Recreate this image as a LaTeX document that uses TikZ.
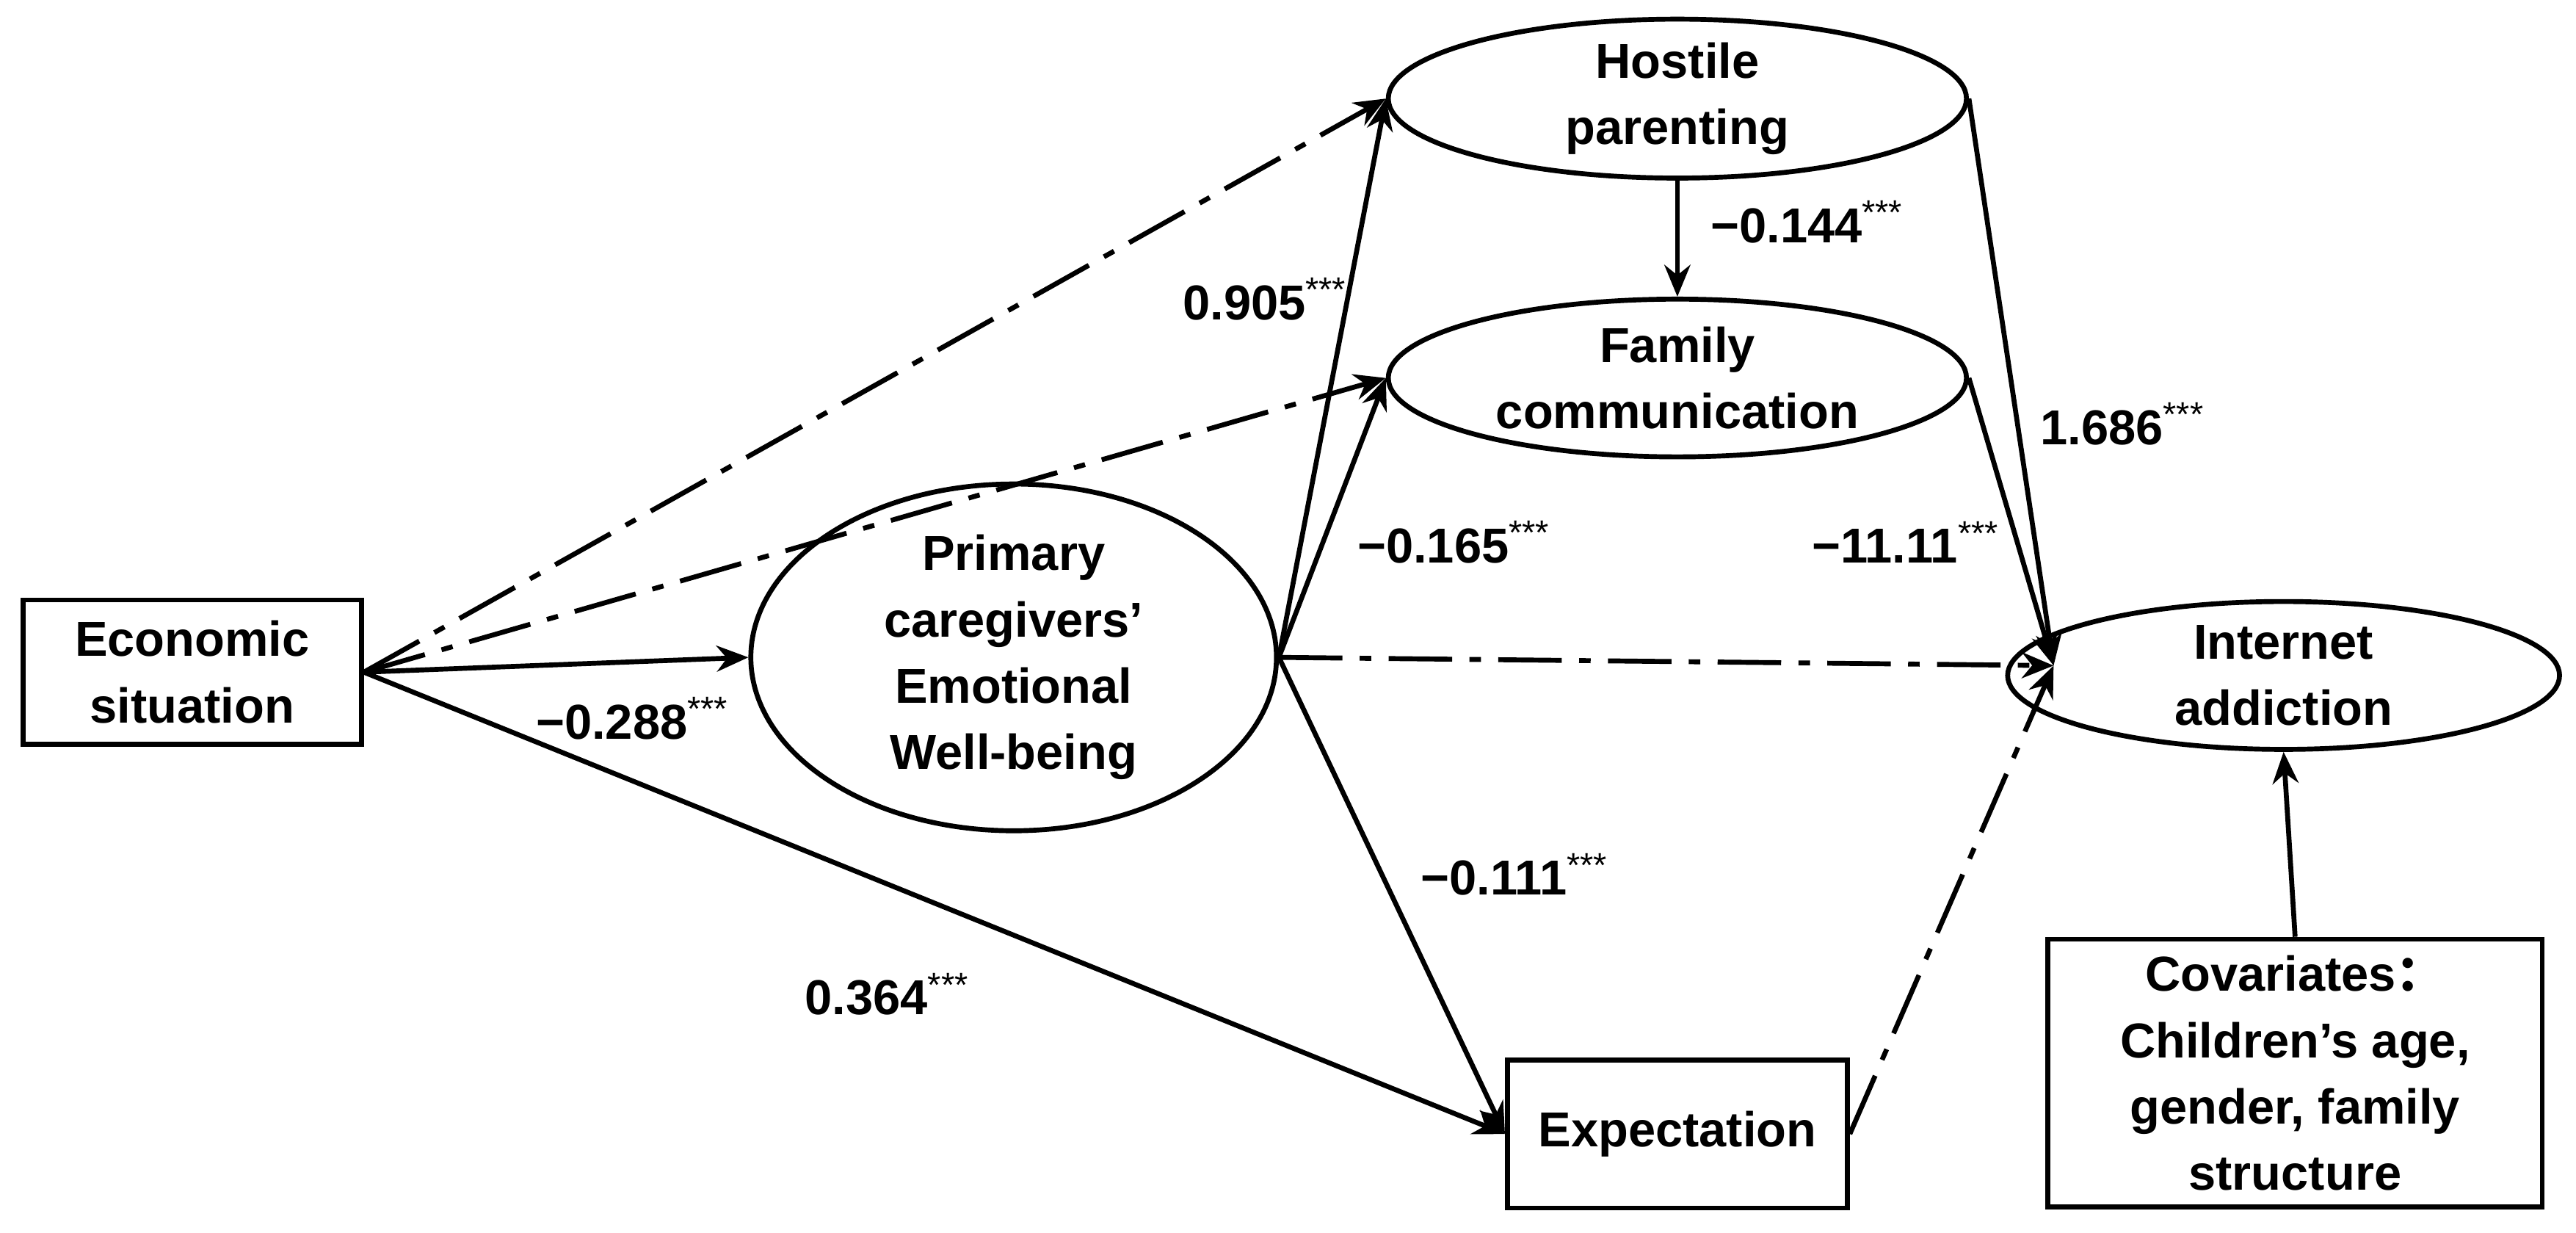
\documentclass[tikz,border=0pt]{standalone}
\usepackage{fontspec}
\setmainfont{Liberation Sans}
\newfontfamily\cjk{Noto Sans CJK SC}
\usetikzlibrary{arrows.meta,shapes.geometric}
\tikzset{
  box/.style={draw, line width=1.7pt, align=center, inner sep=0pt},
  oval/.style={draw, ellipse, line width=1.7pt, align=center, inner sep=0pt},
  path/.style={line width=1.7pt, -{Stealth[length=11pt,width=9pt]}},
  indirect/.style={path, dash pattern=on 22pt off 6pt on 4pt off 6pt},
  coef/.style={font=\fontsize{17}{20}\selectfont\bfseries}
}
\newcommand{\sig}{\textsuperscript{\normalfont***}}
\begin{document}
\begin{tikzpicture}[x=0.02cm, y=-0.02cm, font=\fontsize{17}{23}\selectfont\bfseries]
\useasboundingbox (0,0) rectangle (1568,750);

\node[box, minimum width=206\pgfxxcm, minimum width=4.12cm, minimum height=1.76cm] (econ) at (117,409) {Economic\\situation};
\node[oval, minimum width=6.4cm, minimum height=3.12cm] (pcew) at (617,400) {Primary\\caregivers'\\Emotional\\Well-being};
\node[oval, minimum width=7.04cm, minimum height=1.92cm] (hostile) at (1021,60) {Hostile\\parenting};
\node[oval, minimum width=7.04cm, minimum height=1.92cm] (family) at (1021,230) {Family\\communication};
\node[oval, minimum width=6.72cm, minimum height=1.8cm] (ia) at (1390,411) {Internet\\addiction};
\node[box, minimum width=4.14cm, minimum height=1.8cm] (expect) at (1021,690) {Expectation};
\node[box, minimum width=6.02cm, minimum height=3.26cm] (cov) at (1397,653) {Covariates{\cjk ：}\\Children's age,\\gender, family\\structure};

\coordinate (iaw) at (1250,405);

\draw[indirect] (econ.east) -- (hostile.west);
\draw[indirect] (econ.east) -- (family.west);
\draw[path] (econ.east) -- (pcew.west);
\draw[path] (econ.east) -- (expect.west);
\draw[path] (pcew.east) -- (hostile.west);
\draw[path] (pcew.east) -- (family.west);
\draw[indirect] (pcew.east) -- (iaw);
\draw[path] (pcew.east) -- (expect.west);
\draw[path] (hostile.south) -- (family.north);
\draw[path] (hostile.east) -- (iaw);
\draw[path] (family.east) -- (iaw);
\draw[indirect] (expect.east) -- (iaw);
\draw[path] (cov.north) -- (ia.south);

\node[coef] (c1) at (385,437) {−0.288\sig};
\node[coef] (c2) at (540,605) {0.364\sig};
\node[coef] (c3) at (770,182) {0.905\sig};
\node[coef] (c4) at (885,330) {−0.165\sig};
\node[coef] (c5) at (922,532) {−0.111\sig};
\node[coef] (c6) at (1100,135) {−0.144\sig};
\node[coef] (c7) at (1292,258) {1.686\sig};
\node[coef] (c8) at (1160,330) {−11.11\sig};
\end{tikzpicture}
\end{document}
